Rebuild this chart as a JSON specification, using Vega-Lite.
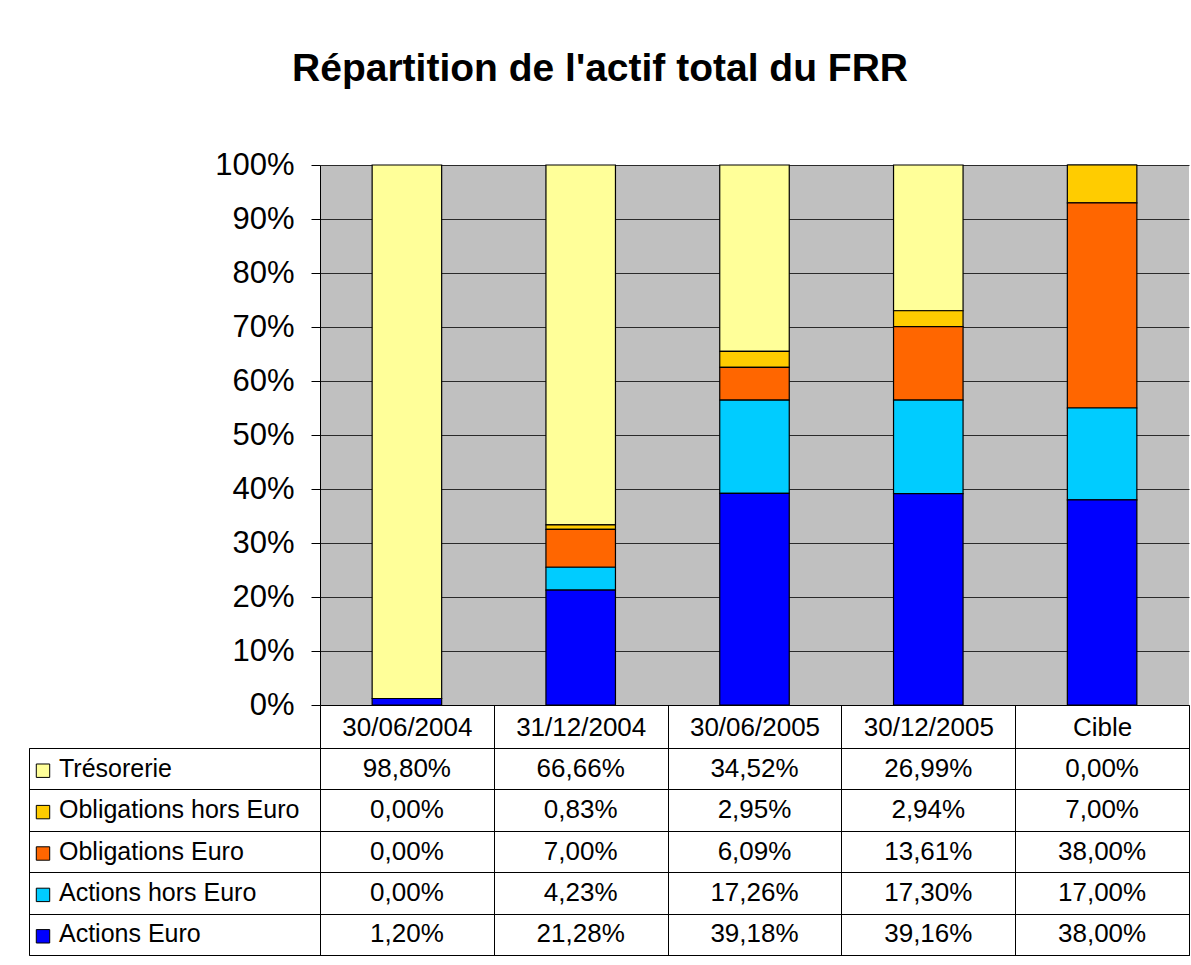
{
  "$schema": "https://vega.github.io/schema/vega-lite/v6.json",
  "padding": {"top": 50, "left": 28, "right": 2, "bottom": 4},
  "title": {"text": "Répartition de l'actif total du FRR", "fontSize": 39, "fontWeight": "bold", "font": "Liberation Sans", "anchor": "middle", "offset": 60, "dx": -9, "color": "black"},
  "config": {
    "font": "Liberation Sans",
    "locale": {"number": {"decimal": ",", "thousands": " ", "grouping": [3], "currency": ["", " €"]}},
    "axis": {"labelColor": "black", "titleColor": "black"}
  },
  "data": {"values": [
    {"date": "30/06/2004", "series": "Trésorerie", "value": 0.988},
    {"date": "30/06/2004", "series": "Obligations hors Euro", "value": 0.0},
    {"date": "30/06/2004", "series": "Obligations Euro", "value": 0.0},
    {"date": "30/06/2004", "series": "Actions hors Euro", "value": 0.0},
    {"date": "30/06/2004", "series": "Actions Euro", "value": 0.012},
    {"date": "31/12/2004", "series": "Trésorerie", "value": 0.6666},
    {"date": "31/12/2004", "series": "Obligations hors Euro", "value": 0.0083},
    {"date": "31/12/2004", "series": "Obligations Euro", "value": 0.07},
    {"date": "31/12/2004", "series": "Actions hors Euro", "value": 0.0423},
    {"date": "31/12/2004", "series": "Actions Euro", "value": 0.2128},
    {"date": "30/06/2005", "series": "Trésorerie", "value": 0.3452},
    {"date": "30/06/2005", "series": "Obligations hors Euro", "value": 0.0295},
    {"date": "30/06/2005", "series": "Obligations Euro", "value": 0.0609},
    {"date": "30/06/2005", "series": "Actions hors Euro", "value": 0.1726},
    {"date": "30/06/2005", "series": "Actions Euro", "value": 0.3918},
    {"date": "30/12/2005", "series": "Trésorerie", "value": 0.2699},
    {"date": "30/12/2005", "series": "Obligations hors Euro", "value": 0.0294},
    {"date": "30/12/2005", "series": "Obligations Euro", "value": 0.1361},
    {"date": "30/12/2005", "series": "Actions hors Euro", "value": 0.173},
    {"date": "30/12/2005", "series": "Actions Euro", "value": 0.3916},
    {"date": "Cible", "series": "Trésorerie", "value": 0.0},
    {"date": "Cible", "series": "Obligations hors Euro", "value": 0.07},
    {"date": "Cible", "series": "Obligations Euro", "value": 0.38},
    {"date": "Cible", "series": "Actions hors Euro", "value": 0.17},
    {"date": "Cible", "series": "Actions Euro", "value": 0.38}
  ]},
  "columns": 2,
  "align": "each",
  "bounds": "flush",
  "spacing": {"row": 43, "column": 0},
  "concat": [
    {
      "width": 291,
      "height": 540,
      "data": {"values": []},
      "view": {"stroke": null},
      "mark": {"type": "text"},
      "encoding": {}
    },
    {
      "width": 869,
      "height": 540,
      "view": {"fill": "#C0C0C0", "stroke": null},
      "mark": {"type": "bar", "width": {"band": 0.4}, "stroke": "black", "strokeWidth": 1.2},
      "encoding": {
        "x": {
          "field": "date", "type": "nominal",
          "sort": ["30/06/2004", "31/12/2004", "30/06/2005", "30/12/2005", "Cible"],
          "scale": {"paddingInner": 0, "paddingOuter": 0},
          "axis": {"title": null, "labelAngle": 0, "labelFontSize": 26, "labelBaseline": "middle", "labelPadding": -21, "tickBand": "extent", "tickSize": 43, "tickColor": "black", "tickWidth": 1, "domainColor": "black", "domainWidth": 1, "grid": false}
        },
        "y": {
          "field": "value", "type": "quantitative", "aggregate": "sum", "stack": "zero",
          "scale": {"domain": [0, 1], "nice": false},
          "axis": {"title": null, "values": [0, 0.1, 0.2, 0.3, 0.4, 0.5, 0.6, 0.7, 0.8, 0.9, 1], "format": ".0%", "labelFontSize": 31, "labelPadding": 17, "tickSize": 9, "tickColor": "black", "domainColor": "black", "domainWidth": 1, "grid": true, "gridColor": "#2a2a2a", "gridWidth": 1.2}
        },
        "color": {
          "field": "series", "type": "nominal",
          "scale": {"domain": ["Trésorerie", "Obligations hors Euro", "Obligations Euro", "Actions hors Euro", "Actions Euro"], "range": ["#FFFF99", "#FFCC00", "#FF6600", "#00CCFF", "#0000FF"]},
          "legend": null
        },
        "order": {"field": "series", "sort": "ascending"}
      }
    },
    {
      "width": 291,
      "height": 207,
      "view": {"stroke": "black", "strokeWidth": 1},
      "transform": [{"aggregate": [{"op": "count", "as": "n"}], "groupby": ["series"]}],
      "encoding": {
        "y": {
          "field": "series", "type": "nominal",
          "sort": ["Trésorerie", "Obligations hors Euro", "Obligations Euro", "Actions hors Euro", "Actions Euro"],
          "scale": {"paddingInner": 0, "paddingOuter": 0},
          "axis": {"title": null, "labels": false, "ticks": false, "domain": false, "grid": true, "tickBand": "extent", "gridColor": "black", "gridWidth": 1}
        }
      },
      "layer": [
        {
          "mark": {"type": "point", "shape": "square", "size": 180, "filled": true, "stroke": "black", "strokeWidth": 1, "opacity": 1, "xOffset": -131.5, "yOffset": 2},
          "encoding": {
            "color": {
              "field": "series", "type": "nominal",
              "scale": {"domain": ["Trésorerie", "Obligations hors Euro", "Obligations Euro", "Actions hors Euro", "Actions Euro"], "range": ["#FFFF99", "#FFCC00", "#FF6600", "#00CCFF", "#0000FF"]},
              "legend": null
            }
          }
        },
        {
          "mark": {"type": "text", "align": "left", "baseline": "middle", "fontSize": 25, "fill": "black", "dx": -115.5},
          "encoding": {"text": {"field": "series"}}
        }
      ]
    },
    {
      "width": 869,
      "height": 207,
      "view": {"stroke": "black", "strokeWidth": 1},
      "mark": {"type": "text", "baseline": "middle", "fontSize": 26, "fill": "black"},
      "encoding": {
        "x": {
          "field": "date", "type": "nominal",
          "sort": ["30/06/2004", "31/12/2004", "30/06/2005", "30/12/2005", "Cible"],
          "scale": {"paddingInner": 0, "paddingOuter": 0},
          "axis": {"title": null, "labels": false, "ticks": false, "domain": false, "grid": true, "tickBand": "extent", "gridColor": "black", "gridWidth": 1}
        },
        "y": {
          "field": "series", "type": "nominal",
          "sort": ["Trésorerie", "Obligations hors Euro", "Obligations Euro", "Actions hors Euro", "Actions Euro"],
          "scale": {"paddingInner": 0, "paddingOuter": 0},
          "axis": {"title": null, "labels": false, "ticks": false, "domain": false, "grid": true, "tickBand": "extent", "gridColor": "black", "gridWidth": 1}
        },
        "text": {"field": "value", "type": "quantitative", "format": ".2%"}
      }
    }
  ]
}
